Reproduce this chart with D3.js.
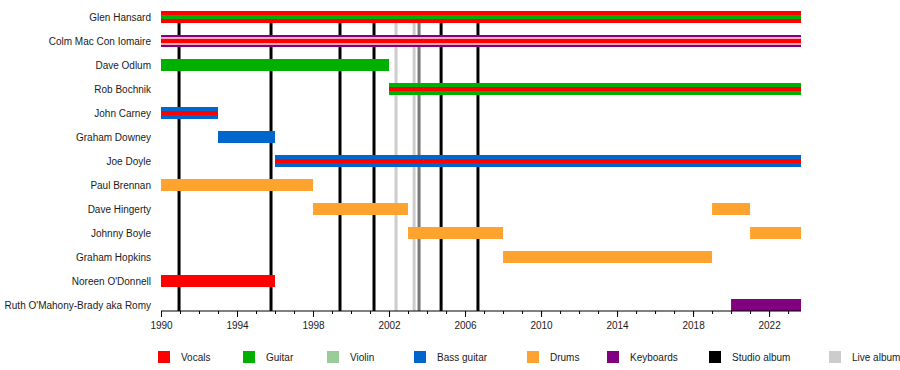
<!DOCTYPE html>
<html><head><meta charset="utf-8">
<script src="https://cdn.jsdelivr.net/npm/d3@7/dist/d3.min.js"></script>
<style>body{margin:0;background:#fff}svg{display:block;font-family:"Liberation Sans",Arial,sans-serif}</style>
</head><body><svg id="c" width="900" height="370"></svg>
<script>
const members = ["Glen Hansard","Colm Mac Con Iomaire","Dave Odlum","Rob Bochnik","John Carney","Graham Downey","Joe Doyle","Paul Brennan","Dave Hingerty","Johnny Boyle","Graham Hopkins","Noreen O'Donnell","Ruth O'Mahony-Brady aka Romy"];
const endYear = 2023.68;
// [member, start, end, roles (outer -> inner)]
const stints = [
  ["Glen Hansard",1990,endYear,["Vocals","Guitar"]],
  ["Colm Mac Con Iomaire",1990,endYear,["Keyboards","Violin","Vocals"]],
  ["Dave Odlum",1990,2002,["Guitar"]],
  ["Rob Bochnik",2002,endYear,["Guitar","Vocals"]],
  ["John Carney",1990,1993,["Bass guitar","Vocals"]],
  ["Graham Downey",1993,1996,["Bass guitar"]],
  ["Joe Doyle",1996,endYear,["Bass guitar","Vocals"]],
  ["Paul Brennan",1990,1998,["Drums"]],
  ["Dave Hingerty",1998,2003,["Drums"]],
  ["Dave Hingerty",2019,2021,["Drums"]],
  ["Johnny Boyle",2003,2008,["Drums"]],
  ["Johnny Boyle",2021,endYear,["Drums"]],
  ["Graham Hopkins",2008,2019,["Drums"]],
  ["Noreen O'Donnell",1990,1996,["Vocals"]],
  ["Ruth O'Mahony-Brady aka Romy",2020,endYear,["Keyboards"]]
];
const studioAlbums = [1990.95,1995.79,1999.42,2001.21,2004.74,2006.68];
const liveAlbums = [2002.37,2003.32];
const otherReleases = [2003.58];
const legendItems = ["Vocals","Guitar","Violin","Bass guitar","Drums","Keyboards","Studio album","Live album"];
const tickYears = [1990,1994,1998,2002,2006,2010,2014,2018,2022];

const legendColor = {"Vocals":"#ff0000","Guitar":"#00b000","Violin":"#99cc99","Bass guitar":"#0066cc","Drums":"#ffa330","Keyboards":"#800080","Studio album":"#000000","Live album":"#cccccc"};
const barColor = Object.assign({}, legendColor, {"Violin":"#f2a7b2"});

const svg = d3.select("#c");
const x = d3.scaleLinear().domain([1990, endYear]).range([161, 801]);
const y = d3.scaleBand().domain(members).range([5, 317]).padding(0);
const axisY = 311;

// album lines
const lines = svg.append("g");
const addLines = (arr, col) => lines.selectAll(null).data(arr).enter().append("line")
  .attr("x1", d => x(d)).attr("x2", d => x(d)).attr("y1", 16).attr("y2", axisY)
  .attr("stroke", col).attr("stroke-width", 3);
addLines(liveAlbums, legendColor["Live album"]);
addLines(otherReleases, "#777777");
addLines(studioAlbums, legendColor["Studio album"]);

// bars
const hFor = (n, i) => n === 1 ? 12 : (n === 2 ? [12,4][i] : [12,8,4][i]);
const bars = svg.append("g");
stints.forEach(([m, s, e, roles]) => {
  const cy = y(m) + y.bandwidth()/2;
  roles.forEach((r, i) => {
    const h = hFor(roles.length, i);
    bars.append("rect").attr("x", x(s)).attr("width", x(e) - x(s))
      .attr("y", cy - h/2).attr("height", h).attr("fill", barColor[r]);
  });
});

// member labels
svg.append("g").selectAll("text").data(members).enter().append("text")
  .attr("x", 151).attr("y", d => y(d) + y.bandwidth()/2).attr("dy", "0.35em")
  .attr("text-anchor", "end").attr("font-size", 10).attr("fill", "#1a1a1a").text(d => d);

// axis
const ax = svg.append("g").attr("transform", `translate(0,${axisY})`);
ax.call(d3.axisBottom(x).tickValues(d3.range(1990, 2024, 1)).tickSize(3).tickFormat(""))
  .call(g => g.select(".domain").attr("d", `M${x(1990)},0H${x(endYear)}`).attr("stroke", "#000"));
ax.call(g => g.selectAll(".tick line").attr("stroke", "#000"));
const ax2 = svg.append("g").attr("transform", `translate(0,${axisY})`);
ax2.call(d3.axisBottom(x).tickValues(tickYears).tickSize(6).tickFormat(d3.format("d")))
  .call(g => g.select(".domain").remove())
  .call(g => g.selectAll("text").attr("font-size", 10).attr("font-family", "Liberation Sans, Arial, sans-serif").attr("fill", "#1a1a1a").attr("dy", "0.9em"));
ax2.selectAll(".tick line").attr("stroke", "#000");

// legend
const legendX = [158,243,327,414,527,607,709,829];
const lg = svg.append("g");
legendItems.forEach((k, i) => {
  lg.append("rect").attr("x", legendX[i]).attr("y", 351).attr("width", 12).attr("height", 12).attr("fill", legendColor[k]);
  lg.append("text").attr("x", legendX[i] + 23).attr("y", 357).attr("dy", "0.35em")
    .attr("font-size", 10).attr("fill", "#1a1a1a").text(k);
});
</script></body></html>
